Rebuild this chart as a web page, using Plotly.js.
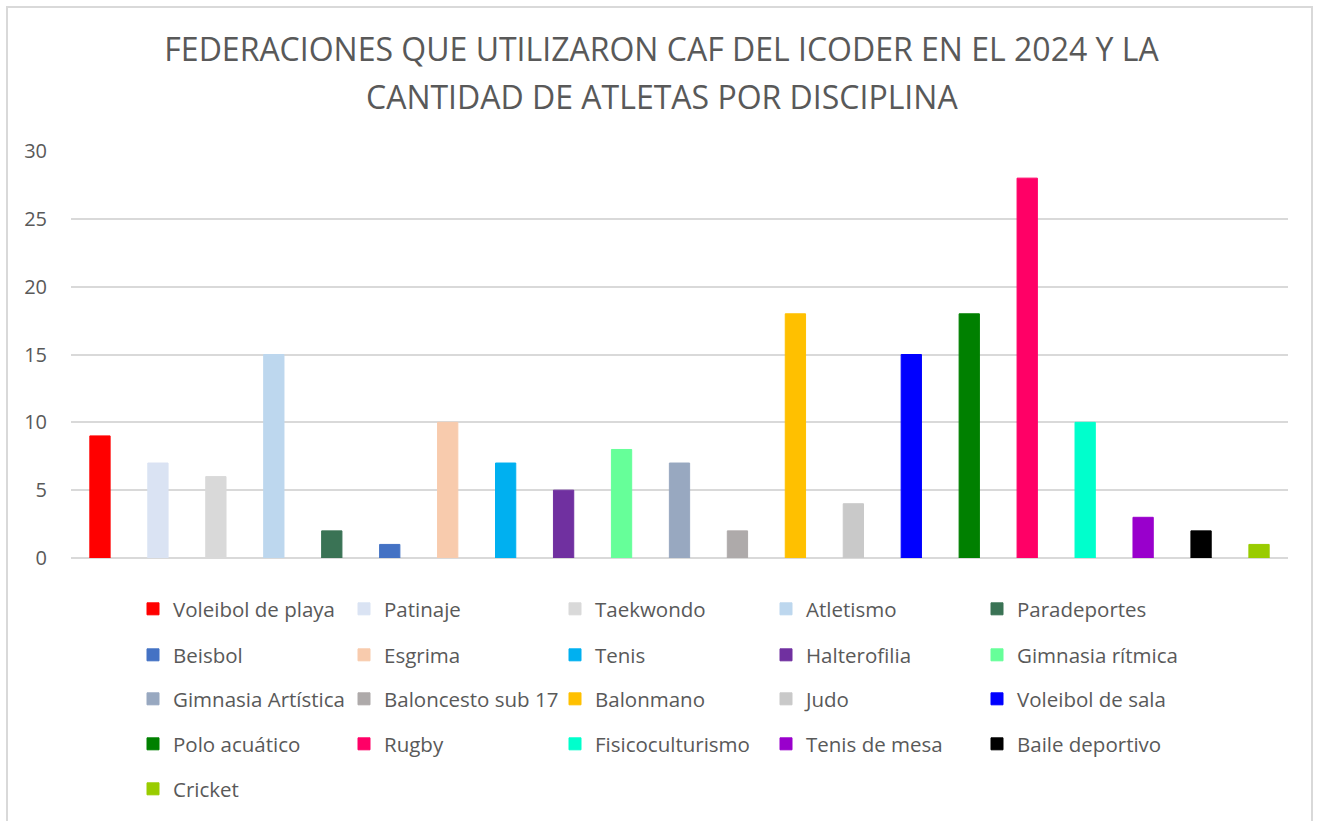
<!DOCTYPE html>
<html>
<head>
<meta charset="utf-8">
<script src="https://cdn.plot.ly/plotly-3.0.1.min.js"></script>
<style>
  html, body { margin: 0; padding: 0; background: #fff; }
  #wrap { position: relative; width: 1319px; height: 821px; }
  #chart { width: 1319px; height: 821px; }
  #frame { position: absolute; left: 6px; top: 6px; width: 1307px; height: 830px;
           border: 2px solid #d9d9d9; pointer-events: none; box-sizing: border-box; }
</style>
</head>
<body>
<div id="wrap"><div id="chart"></div><div id="frame"></div></div>
<script>
// Data
const disciplinas = [
  "Voleibol de playa", "Patinaje", "Taekwondo", "Atletismo", "Paradeportes",
  "Beisbol", "Esgrima", "Tenis", "Halterofilia", "Gimnasia rítmica",
  "Gimnasia Artística", "Baloncesto sub 17", "Balonmano", "Judo", "Voleibol de sala",
  "Polo acuático", "Rugby", "Fisicoculturismo", "Tenis de mesa", "Baile deportivo",
  "Cricket"
];
const atletas = [9, 7, 6, 15, 2, 1, 10, 7, 5, 8, 7, 2, 18, 4, 15, 18, 28, 10, 3, 2, 1];
const colores = [
  "#FF0000", "#DAE3F3", "#D9D9D9", "#BDD7EE", "#3A7355",
  "#4472C4", "#F8CBAD", "#00B0F0", "#7030A0", "#66FF99",
  "#98A8C0", "#AEAAAA", "#FFC000", "#C9C9C9", "#0000FF",
  "#008000", "#FF0066", "#00FFCC", "#9900CC", "#000000",
  "#99CC00"
];
const yTicks = [0, 5, 10, 15, 20, 25, 30];
const tituloLinea1 = "FEDERACIONES QUE UTILIZARON CAF DEL ICODER EN EL 2024 Y LA";
const tituloLinea2 = "CANTIDAD DE ATLETAS POR DISCIPLINA";

const W = 1319, H = 821;
const FONT = "'Open Sans', sans-serif";
const legendRowsY = [609, 655, 699, 744, 789];
const legendLeft = 133;

const traces = disciplinas.map((d, i) => ({
  type: "bar",
  name: d,
  x: [d],
  y: [atletas[i]],
  width: 0.35,
  marker: { color: colores[i], line: { color: colores[i], width: 1 } },
  legend: "legend" + (Math.floor(i / 5) === 0 ? "" : (Math.floor(i / 5) + 1)),
  hovertemplate: "%{x}: %{y}<extra></extra>"
}));

const layout = {
  width: W, height: H,
  paper_bgcolor: "#ffffff", plot_bgcolor: "#ffffff",
  margin: { l: 71, r: 31, t: 151, b: 263 },
  barmode: "overlay",
  showlegend: true,
  font: { family: FONT, color: "#595959" },
  title: {
    text: tituloLinea1,
    font: { family: FONT, size: 32, color: "#595959" },
    x: 661.5 / W, xanchor: "center", xref: "container",
    y: 1 - 50 / H, yanchor: "middle", yref: "container"
  },
  annotations: [{
    text: tituloLinea2,
    xref: "paper", yref: "paper", x: (661.5 - 71) / 1217, xanchor: "center",
    y: 1 + (151 - 97) / 407, yanchor: "middle",
    showarrow: false,
    font: { family: FONT, size: 32, color: "#595959" }
  }],
  xaxis: {
    type: "category",
    categoryorder: "array", categoryarray: disciplinas,
    showticklabels: false, showgrid: false, zeroline: false, showline: false,
    ticks: "", fixedrange: true
  },
  yaxis: {
    range: [0, 30], tickvals: yTicks, ticktext: yTicks.map(String),
    showgrid: true, gridcolor: "#d9d9d9", gridwidth: 1.5,
    zeroline: true, zerolinecolor: "#d9d9d9", zerolinewidth: 1.5,
    showline: false, ticks: "", ticklabelstandoff: 23,
    tickfont: { family: FONT, size: 20, color: "#595959" },
    fixedrange: true
  }
};

for (let r = 0; r < 5; r++) {
  const key = r === 0 ? "legend" : "legend" + (r + 1);
  layout[key] = {
    orientation: "h",
    xref: "container", yref: "container",
    x: legendLeft / W, xanchor: "left",
    y: 1 - legendRowsY[r] / H, yanchor: "middle",
    entrywidth: 166, entrywidthmode: "pixels",
    font: { family: FONT, size: 20.5, color: "#595959" },
    bgcolor: "rgba(0,0,0,0)", borderwidth: 0,
    traceorder: "normal", itemclick: false, itemdoubleclick: false
  };
}

Plotly.newPlot("chart", traces, layout, { displayModeBar: false });
</script>
</body>
</html>
